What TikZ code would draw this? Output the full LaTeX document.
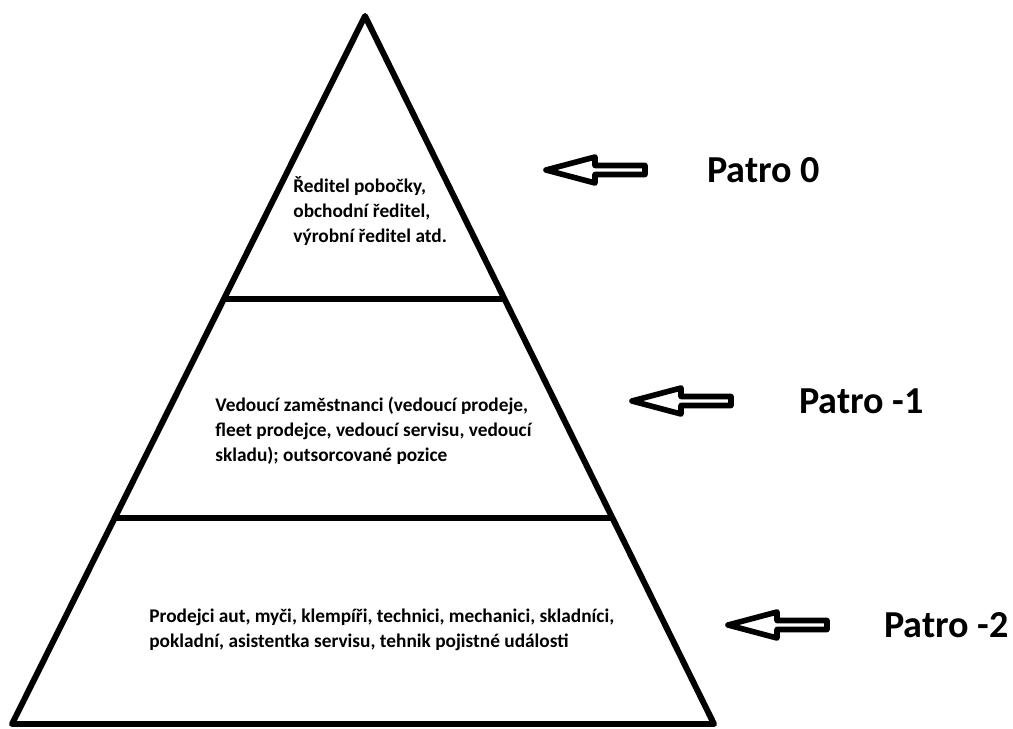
\documentclass[tikz,border=0pt]{standalone}
\usepackage{fontspec}
\setmainfont{Carlito}
\usetikzlibrary{calc}

\begin{document}
\begin{tikzpicture}[x=0.02cm, y=-0.02cm,
    edge/.style={line width=3.4pt, line join=round},
    txt/.style={anchor=west, align=left, inner sep=0pt,
                font=\bfseries\fontsize{11}{14.3}\selectfont},
    lvl/.style={anchor=west, inner sep=0pt,
                font=\bfseries\fontsize{21.7}{25}\selectfont},
    hollow/.style={line width=3.2pt, line join=round}]
  \useasboundingbox (0,0) rectangle (1013,729);

  % pyramid
  \coordinate (top) at (365,16);
  \coordinate (bl) at (12,724);
  \coordinate (br) at (714,724);
  \draw[edge] (bl) -- (top) -- (br) -- cycle;
  \draw[edge] ($(top)!0.4!(bl)$) -- ($(top)!0.4!(br)$);
  \draw[edge] ($(top)!0.709!(bl)$) -- ($(top)!0.709!(br)$);

  % texts in the levels
  \node[txt] (t0) at (293,211) {Ředitel pobočky,\\obchodní ředitel,\\výrobní ředitel atd.};
  \node[txt] (t1) at (215,431) {Vedoucí zaměstnanci (vedoucí prodeje,\\fleet prodejce, vedoucí servisu, vedoucí\\skladu); outsorcované pozice};
  \node[txt] (t2) at (149,630) {Prodejci aut, myči, klempíři, technici, mechanici, skladníci,\\pokladní, asistentka servisu, tehnik pojistné události};

  % arrows and labels
  \foreach \x/\y/\name/\lab [count=\i from 0] in
      {546/170/Patro 0/707, 632/401/Patro -1/799, 728/625/Patro -2/884}{
    \draw[hollow] (\x,\y) -- ++(49,-13) -- ++(0,8.5) -- ++(50,0) -- ++(0,9)
      -- ++(-50,0) -- ++(0,8.5) -- cycle;
    \node[lvl] (p\i) at (\lab,\y) {\name};
  }
\end{tikzpicture}
\end{document}
